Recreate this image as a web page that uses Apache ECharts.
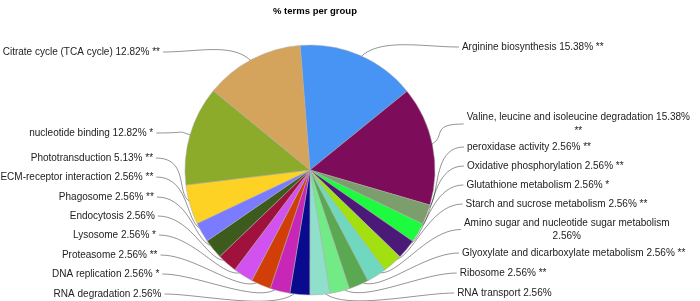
<!DOCTYPE html>
<html><head><meta charset="utf-8">
<script src="https://cdn.jsdelivr.net/npm/echarts@6/dist/echarts.min.js"></script>
<style>html,body{margin:0;padding:0;background:#fff}#c{width:700px;height:301px}</style>
</head><body><div id="c"></div>
<script>
// ---- data ----
const names = ['Arginine biosynthesis','Valine, leucine and isoleucine degradation','peroxidase activity','Oxidative phosphorylation','Glutathione metabolism','Starch and sucrose metabolism','Amino sugar and nucleotide sugar metabolism','Glyoxylate and dicarboxylate metabolism','Ribosome','RNA transport','RNA degradation','DNA replication','Proteasome','Lysosome','Endocytosis','Phagosome','ECM-receptor interaction','Phototransduction','nucleotide binding','Citrate cycle (TCA cycle)'];
const percents = [15.38,15.38,2.56,2.56,2.56,2.56,2.56,2.56,2.56,2.56,2.56,2.56,2.56,2.56,2.56,2.56,2.56,5.13,12.82,12.82];
const significance = ['**','**','**','**','*','**','','**','**','','','*','**','*','','**','**','**','*','**'];
const titleText = '% terms per group';

// ---- style / layout ----
const colors = ['#4794F5','#7D0D5A','#7C9E6C','#1CFB3E','#4B1A78','#A2E012','#70D8BE','#5BA852','#72EA86','#8EE0CA','#0A0A8E','#C826B6','#D23E08','#D252F0','#A0113E','#3E5B1E','#7B7BFF','#FDD225','#8DAB2A','#D4A35C'];
// vertical centre of each label block (layout only)
const labelY = [47,124,147,166,185,204,229.5,253,273,293, 294,274,255,235,216,197,177,158,133,52];
const CX = 310, CY = 170, R = 125, START = -4.5; // start angle measured clockwise from 12 o'clock

const FONT = '"Liberation Sans", Arial, sans-serif';
const FS = 10;
const ctx = document.createElement('canvas').getContext('2d');
ctx.font = FS + 'px ' + FONT;
function wrap(text, maxW) {
  const words = text.split(' ');
  const lines = [];
  let cur = '';
  words.forEach(w => {
    const t = cur ? cur + ' ' + w : w;
    if (cur && ctx.measureText(t).width > maxW) { lines.push(cur); cur = w; }
    else cur = t;
  });
  if (cur) lines.push(cur);
  return lines;
}
const labelLines = names.map((n, i) => wrap((n + ' ' + percents[i].toFixed(2) + '% ' + significance[i]).trim(), 228));

const total = percents.reduce((a, b) => a + b, 0);
const midAngles = [];
{ let acc = 0; percents.forEach(v => { midAngles.push(START + 360 * (acc + v / 2) / total); acc += v; }); }

function labelX(i) {
  const y = labelY[i];
  const right = Math.sin(midAngles[i] * Math.PI / 180) > 0;
  if (right) return 467 - 10 * Math.pow((y - 150) / 144, 2);
  if (y < 150) return 153 + 7 * Math.pow((y - 150) / 98, 2);
  return 153 + 8 * Math.pow((y - 150) / 140, 2);
}

function bez(p0, p1, p2, p3, n) {
  const pts = [];
  for (let k = 0; k <= n; k++) {
    const t = k / n, u = 1 - t;
    pts.push([
      u*u*u*p0[0] + 3*u*u*t*p1[0] + 3*u*t*t*p2[0] + t*t*t*p3[0],
      u*u*u*p0[1] + 3*u*u*t*p1[1] + 3*u*t*t*p2[1] + t*t*t*p3[1]
    ]);
  }
  return pts;
}

const chart = echarts.init(document.getElementById('c'), null, {renderer: 'canvas'});
chart.setOption({
  animation: false,
  backgroundColor: '#fff',
  title: {
    text: titleText, left: CX, top: 1, textAlign: 'center',
    textStyle: {fontSize: 9.5, fontWeight: 'bold', color: '#000', fontFamily: FONT}
  },
  series: [{
    type: 'pie',
    center: [CX, CY],
    radius: R,
    startAngle: 90 - START,
    clockwise: true,
    avoidLabelOverlap: false,
    minShowLabelAngle: 0,
    silent: true,
    data: names.map((n, i) => ({name: n, value: percents[i], itemStyle: {color: colors[i]}})),
    itemStyle: {borderColor: '#aaa', borderWidth: 0.5},
    label: {
      position: 'outside',
      formatter: p => labelLines[p.dataIndex].map(l => '{c|' + l + '}').join('\n'),
      rich: {c: {align: 'center', fontSize: FS, fontFamily: FONT, color: '#222', lineHeight: 13.5}}
    },
    labelLine: {show: true, length: 10, length2: 14, lineStyle: {color: 'rgba(0,0,0,0.42)', width: 1}},
    labelLayout: function (params) {
      const i = params.dataIndex;
      const a = midAngles[i] * Math.PI / 180;
      const dx = Math.sin(a), dy = -Math.cos(a);
      const right = dx > 0;
      const x = labelX(i), y = labelY[i];
      const side = right ? 1 : -1;
      const p0 = [CX + 0.9 * R * dx, CY + 0.9 * R * dy];
      const end = [x - side * 3, y];
      const p1 = [CX + (R + 22) * dx, CY + (R + 22) * dy];
      const p2 = [end[0] - side * 40, y];
      return {
        x: x, y: y, align: right ? 'left' : 'right', verticalAlign: 'middle',
        labelLinePoints: bez(p0, p1, p2, end, 24)
      };
    }
  }]
});
</script></body></html>
